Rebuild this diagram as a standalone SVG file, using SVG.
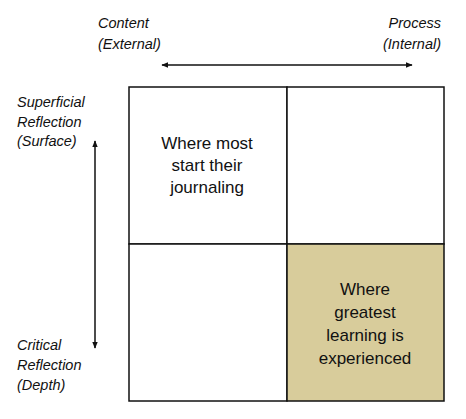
<svg xmlns="http://www.w3.org/2000/svg" width="466" height="419" viewBox="0 0 466 419">
<style>
.ax{font-family:"Liberation Sans",Arial,sans-serif;font-style:italic;font-size:14.5px;fill:#111}
.q{font-family:"Liberation Sans",Arial,sans-serif;font-size:17px;fill:#111;text-anchor:middle}
.cell{stroke:#111;stroke-width:1.5}
.arr{stroke:#111;stroke-width:1.5;fill:none}
</style>
<defs>
<marker id="ah" viewBox="0 0 10 10" refX="9" refY="5" markerWidth="7" markerHeight="7" orient="auto-start-reverse" markerUnits="userSpaceOnUse">
<path d="M0,1 L10,5 L0,9 Z" fill="#111"/>
</marker>
</defs>
<rect width="466" height="419" fill="#fff"/>
<g id="labels">
<text class="ax" x="98" y="28">Content</text>
<text class="ax" x="98" y="49">(External)</text>
<text class="ax" x="441" y="28" text-anchor="end">Process</text>
<text class="ax" x="441" y="49" text-anchor="end">(Internal)</text>
<text class="ax" x="17" y="107">Superficial</text>
<text class="ax" x="17" y="127">Reflection</text>
<text class="ax" x="17" y="146">(Surface)</text>
<text class="ax" x="17" y="350">Critical</text>
<text class="ax" x="17" y="370">Reflection</text>
<text class="ax" x="17" y="390">(Depth)</text>
</g>
<g id="connectors">
<line class="arr" x1="162" y1="65" x2="412" y2="65" marker-start="url(#ah)" marker-end="url(#ah)"/>
<line class="arr" x1="95" y1="141" x2="95" y2="348" marker-start="url(#ah)" marker-end="url(#ah)"/>
</g>
<g id="q-top-left">
<rect class="cell" x="129" y="87" width="158" height="157" fill="#fff"/>
<text class="q" x="207" y="149">Where most</text>
<text class="q" x="207" y="171">start their</text>
<text class="q" x="207" y="193">journaling</text>
</g>
<g id="q-top-right">
<rect class="cell" x="287" y="87" width="157" height="157" fill="#fff"/>
</g>
<g id="q-bottom-left">
<rect class="cell" x="129" y="244" width="158" height="157" fill="#fff"/>
</g>
<g id="q-bottom-right">
<rect class="cell" x="287" y="244" width="157" height="157" fill="#d8cc9b"/>
<text class="q" x="365" y="295">Where</text>
<text class="q" x="365" y="318">greatest</text>
<text class="q" x="365" y="341">learning is</text>
<text class="q" x="365" y="364">experienced</text>
</g>
</svg>
